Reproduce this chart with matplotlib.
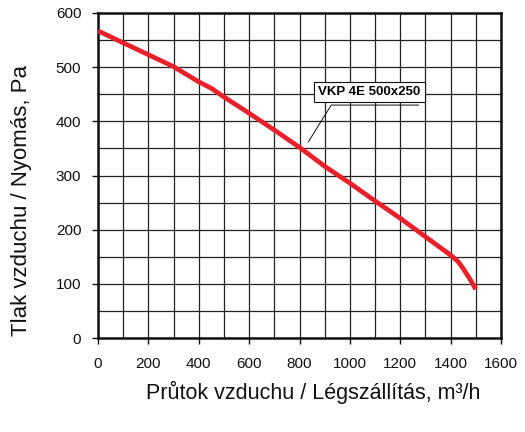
import matplotlib
matplotlib.use("Agg")
import matplotlib.pyplot as plt
from matplotlib.ticker import MultipleLocator

plt.rcParams['font.family'] = ['Liberation Sans', 'DejaVu Sans']

# Fan characteristic curve: airflow (m3/h) vs. pressure (Pa)
flow = [0, 100, 200, 300, 400, 450, 500, 600, 700, 800, 900, 1000,
        1100, 1200, 1300, 1400, 1430, 1450, 1475, 1500]
pressure = [567, 545, 523, 501, 473, 461, 445, 415, 384, 352, 317, 286,
            253, 221, 187, 153, 141, 128, 110, 90]

x_ticks = [0, 200, 400, 600, 800, 1000, 1200, 1400, 1600]
y_ticks = [0, 100, 200, 300, 400, 500, 600]
model_label = "VKP 4E 500x250"
x_label = "Průtok vzduchu / Légszállítás, m³/h"
y_label = "Tlak vzduchu / Nyomás, Pa"

fig = plt.figure(figsize=(5.25, 4.32), dpi=100)
ax = fig.add_axes([98 / 525, 1 - 338 / 432, (501 - 98) / 525, (338 - 13) / 432])

ax.set_xlim(0, 1600)
ax.set_ylim(0, 600)
ax.set_xticks(x_ticks)
ax.set_yticks(y_ticks)
ax.xaxis.set_minor_locator(MultipleLocator(100))
ax.yaxis.set_minor_locator(MultipleLocator(50))
ax.grid(which='both', color='#222222', linewidth=0.9)
ax.set_axisbelow(True)

for s in ax.spines.values():
    s.set_linewidth(1.8)
    s.set_color('#111111')

ax.tick_params(which='major', direction='out', length=4, width=1,
               labelsize=11, colors='#111111')
ax.tick_params(axis='x', pad=10)
ax.tick_params(axis='y', pad=8)
ax.tick_params(which='minor', length=0)

ax.plot(flow, pressure, color='#e8202a', linewidth=3.4,
        solid_capstyle='butt', solid_joinstyle='round', zorder=3)

# Model label with leader line
ax.plot([835, 926, 1272], [362, 430, 430], color='#111111', linewidth=0.7, zorder=4)
ax.text(1078, 455, model_label, fontsize=9.5, fontweight='bold', ha='center', va='center',
        zorder=5,
        bbox=dict(boxstyle='square,pad=0.3', facecolor='white', edgecolor='#111111',
                  linewidth=0.8))

fig.text(313 / 525, 1 - 392 / 432, x_label, fontsize=15.5, ha='center', va='center',
         color='#111111')
fig.text(22 / 525, 1 - 200 / 432, y_label, fontsize=16, ha='center', va='center',
         rotation=90, color='#111111')

fig.savefig("out.png", dpi=100)
